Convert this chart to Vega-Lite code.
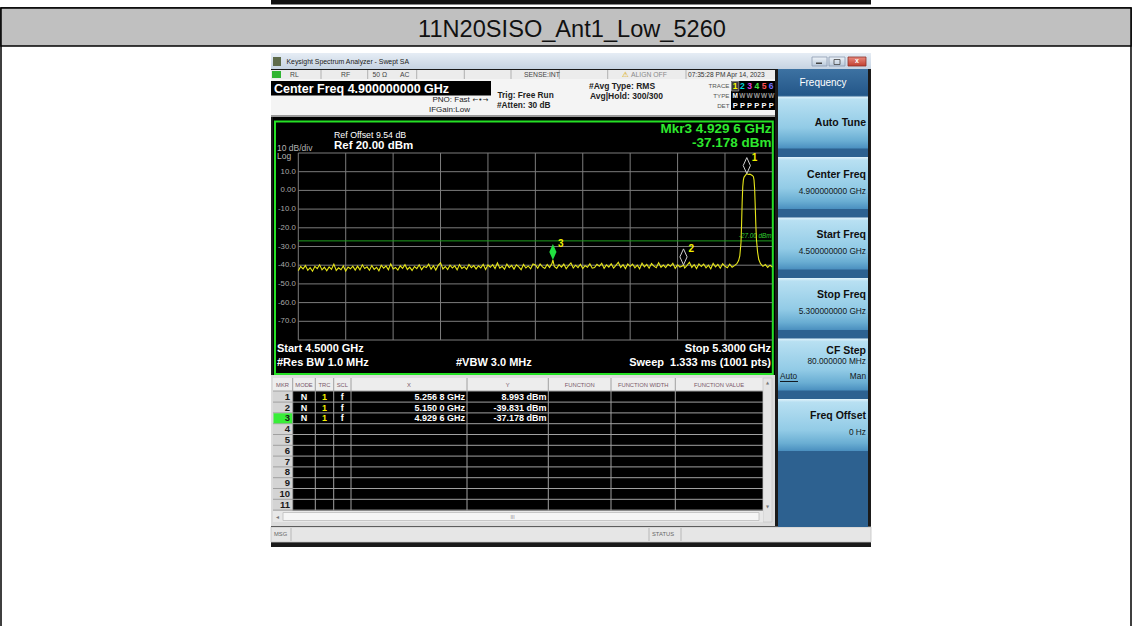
{
"$schema":"https://vega.github.io/schema/vega-lite/v6.json",
"width":1132,"height":626,"padding":0,
"autosize":{"type":"fit","contains":"padding"},
"background":"#ffffff",
"config":{"view":{"stroke":null},"font":"Liberation Sans","axis":{"disable":true},"legend":{"disable":true}},
"datasets":{
"one":[{"k":1}],
"xgrid":[{"f":4.5},{"f":4.58},{"f":4.66},{"f":4.74},{"f":4.82},{"f":4.9},{"f":4.98},{"f":5.06},{"f":5.14},{"f":5.22}],
"ygrid":[{"dbm":20},{"dbm":10},{"dbm":0},{"dbm":-10},{"dbm":-20},{"dbm":-30},{"dbm":-40},{"dbm":-50},{"dbm":-60},{"dbm":-70},{"dbm":-80}],
"ylabels":[{"dbm":10,"label":"10.0"},{"dbm":0,"label":"0.00"},{"dbm":-10,"label":"-10.0"},{"dbm":-20,"label":"-20.0"},{"dbm":-30,"label":"-30.0"},{"dbm":-40,"label":"-40.0"},{"dbm":-50,"label":"-50.0"},{"dbm":-60,"label":"-60.0"},{"dbm":-70,"label":"-70.0"}],
"dline":[{"level":-27,"label":"-27.00 dBm"}],
"mkrs":[{"n":1,"f":5.2568,"dbm":8.993},{"n":2,"f":5.15,"dbm":-39.831},{"n":3,"f":4.9296,"dbm":-37.178}],
"trace":[{"f":4.500,"dbm":-42.9},{"f":4.504,"dbm":-40.7},{"f":4.508,"dbm":-42.0},{"f":4.512,"dbm":-40.2},{"f":4.516,"dbm":-42.7},{"f":4.520,"dbm":-41.3},{"f":4.524,"dbm":-43.2},{"f":4.528,"dbm":-40.6},{"f":4.532,"dbm":-41.8},{"f":4.536,"dbm":-39.8},{"f":4.540,"dbm":-42.5},{"f":4.544,"dbm":-41.1},{"f":4.548,"dbm":-43.0},{"f":4.552,"dbm":-40.9},{"f":4.556,"dbm":-42.2},{"f":4.560,"dbm":-39.4},{"f":4.564,"dbm":-42.8},{"f":4.568,"dbm":-41.4},{"f":4.572,"dbm":-42.4},{"f":4.576,"dbm":-40.4},{"f":4.580,"dbm":-43.1},{"f":4.584,"dbm":-41.0},{"f":4.588,"dbm":-41.9},{"f":4.592,"dbm":-40.5},{"f":4.596,"dbm":-42.6},
{"f":4.600,"dbm":-40.5},{"f":4.604,"dbm":-42.5},{"f":4.608,"dbm":-39.8},{"f":4.612,"dbm":-41.8},{"f":4.616,"dbm":-40.9},{"f":4.620,"dbm":-42.7},{"f":4.624,"dbm":-40.2},{"f":4.628,"dbm":-42.2},{"f":4.632,"dbm":-41.1},{"f":4.636,"dbm":-43.0},{"f":4.640,"dbm":-40.0},{"f":4.644,"dbm":-41.6},{"f":4.648,"dbm":-40.4},{"f":4.652,"dbm":-42.4},{"f":4.656,"dbm":-39.3},{"f":4.660,"dbm":-42.0},{"f":4.664,"dbm":-41.2},{"f":4.668,"dbm":-42.6},{"f":4.672,"dbm":-40.3},{"f":4.676,"dbm":-41.7},{"f":4.680,"dbm":-39.7},{"f":4.684,"dbm":-42.3},{"f":4.688,"dbm":-41.0},{"f":4.692,"dbm":-42.8},{"f":4.696,"dbm":-40.7},
{"f":4.700,"dbm":-41.8},{"f":4.704,"dbm":-39.8},{"f":4.708,"dbm":-42.4},{"f":4.712,"dbm":-40.6},{"f":4.716,"dbm":-41.2},{"f":4.720,"dbm":-39.4},{"f":4.724,"dbm":-42.1},{"f":4.728,"dbm":-40.3},{"f":4.732,"dbm":-42.6},{"f":4.736,"dbm":-40.1},{"f":4.740,"dbm":-38.7},{"f":4.744,"dbm":-42.0},{"f":4.748,"dbm":-40.7},{"f":4.752,"dbm":-42.3},{"f":4.756,"dbm":-40.0},{"f":4.760,"dbm":-41.5},{"f":4.764,"dbm":-40.4},{"f":4.768,"dbm":-42.5},{"f":4.772,"dbm":-39.7},{"f":4.776,"dbm":-41.7},{"f":4.780,"dbm":-40.8},{"f":4.784,"dbm":-42.2},{"f":4.788,"dbm":-39.6},{"f":4.792,"dbm":-41.3},{"f":4.796,"dbm":-40.2},
{"f":4.800,"dbm":-42.0},{"f":4.804,"dbm":-40.3},{"f":4.808,"dbm":-41.4},{"f":4.812,"dbm":-39.5},{"f":4.816,"dbm":-42.3},{"f":4.820,"dbm":-39.9},{"f":4.824,"dbm":-41.1},{"f":4.828,"dbm":-39.7},{"f":4.832,"dbm":-41.8},{"f":4.836,"dbm":-38.8},{"f":4.840,"dbm":-41.6},{"f":4.844,"dbm":-40.6},{"f":4.848,"dbm":-42.2},{"f":4.852,"dbm":-39.4},{"f":4.856,"dbm":-41.3},{"f":4.860,"dbm":-40.1},{"f":4.864,"dbm":-42.1},{"f":4.868,"dbm":-39.8},{"f":4.872,"dbm":-40.9},{"f":4.876,"dbm":-42.4},{"f":4.880,"dbm":-39.6},{"f":4.884,"dbm":-41.5},{"f":4.888,"dbm":-40.4},{"f":4.892,"dbm":-41.9},{"f":4.896,"dbm":-39.3},
{"f":4.900,"dbm":-39.9},{"f":4.904,"dbm":-41.6},{"f":4.908,"dbm":-39.3},{"f":4.912,"dbm":-40.9},{"f":4.916,"dbm":-41.8},{"f":4.920,"dbm":-39.6},{"f":4.924,"dbm":-41.2},{"f":4.928,"dbm":-39.1},{"f":4.9296,"dbm":-37.178},{"f":4.932,"dbm":-40.7},{"f":4.936,"dbm":-41.7},{"f":4.940,"dbm":-39.7},{"f":4.944,"dbm":-41.0},{"f":4.948,"dbm":-39.4},{"f":4.952,"dbm":-41.9},{"f":4.956,"dbm":-40.2},{"f":4.960,"dbm":-38.8},{"f":4.964,"dbm":-41.5},{"f":4.968,"dbm":-40.0},{"f":4.972,"dbm":-41.3},{"f":4.976,"dbm":-39.5},{"f":4.980,"dbm":-41.8},{"f":4.984,"dbm":-40.3},{"f":4.988,"dbm":-41.1},{"f":4.992,"dbm":-39.2},{"f":4.996,"dbm":-41.6},
{"f":5.000,"dbm":-41.3},{"f":5.004,"dbm":-39.5},{"f":5.008,"dbm":-40.6},{"f":5.012,"dbm":-39.0},{"f":5.016,"dbm":-41.7},{"f":5.020,"dbm":-39.8},{"f":5.024,"dbm":-41.0},{"f":5.028,"dbm":-39.2},{"f":5.032,"dbm":-41.5},{"f":5.036,"dbm":-40.1},{"f":5.040,"dbm":-38.4},{"f":5.044,"dbm":-41.2},{"f":5.048,"dbm":-39.7},{"f":5.052,"dbm":-41.8},{"f":5.056,"dbm":-39.3},{"f":5.060,"dbm":-40.7},{"f":5.064,"dbm":-39.4},{"f":5.068,"dbm":-41.4},{"f":5.072,"dbm":-40.0},{"f":5.076,"dbm":-41.9},{"f":5.080,"dbm":-38.9},{"f":5.084,"dbm":-40.9},{"f":5.088,"dbm":-39.6},{"f":5.092,"dbm":-41.6},{"f":5.096,"dbm":-39.1},{"f":5.100,"dbm":-40.5},{"f":5.104,"dbm":-41.3},{"f":5.108,"dbm":-38.7},{"f":5.112,"dbm":-41.1},{"f":5.116,"dbm":-39.9},{"f":5.120,"dbm":-41.3},{"f":5.124,"dbm":-39.5},{"f":5.128,"dbm":-40.6},{"f":5.132,"dbm":-39.0},{"f":5.136,"dbm":-41.7},{"f":5.140,"dbm":-39.8},{"f":5.144,"dbm":-41.0},{"f":5.148,"dbm":-40.4},{"f":5.150,"dbm":-39.831},{"f":5.152,"dbm":-41.5},{"f":5.156,"dbm":-40.1},{"f":5.160,"dbm":-38.4},{"f":5.164,"dbm":-41.2},{"f":5.168,"dbm":-39.7},{"f":5.172,"dbm":-41.8},{"f":5.176,"dbm":-39.3},{"f":5.180,"dbm":-40.7},{"f":5.184,"dbm":-39.4},{"f":5.188,"dbm":-41.4},{"f":5.192,"dbm":-40.0},{"f":5.196,"dbm":-41.9},{"f":5.200,"dbm":-39.0},{"f":5.204,"dbm":-40.9},{"f":5.208,"dbm":-39.6},{"f":5.212,"dbm":-41.6},{"f":5.216,"dbm":-39.2},{"f":5.220,"dbm":-40.6},{"f":5.224,"dbm":-41.4},{"f":5.228,"dbm":-39.5},{"f":5.232,"dbm":-41.1},{"f":5.236,"dbm":-40.2},
{"f":5.240,"dbm":-39.2},{"f":5.243,"dbm":-37.5},{"f":5.245,"dbm":-35.0},{"f":5.247,"dbm":-28.0},{"f":5.248,"dbm":-18.0},{"f":5.249,"dbm":-6.0},{"f":5.250,"dbm":2.0},{"f":5.251,"dbm":5.5},{"f":5.252,"dbm":7.0},{"f":5.254,"dbm":7.9},{"f":5.256,"dbm":8.7},{"f":5.2568,"dbm":8.993},{"f":5.258,"dbm":8.8},{"f":5.260,"dbm":8.5},{"f":5.262,"dbm":8.7},{"f":5.264,"dbm":8.4},{"f":5.266,"dbm":8.0},{"f":5.268,"dbm":7.3},{"f":5.269,"dbm":5.5},{"f":5.270,"dbm":1.0},{"f":5.271,"dbm":-8.0},{"f":5.272,"dbm":-18.0},{"f":5.273,"dbm":-26.0},{"f":5.275,"dbm":-33.0},{"f":5.277,"dbm":-37.0},{"f":5.280,"dbm":-39.2},{"f":5.284,"dbm":-40.6},{"f":5.288,"dbm":-39.6},{"f":5.292,"dbm":-41.2},{"f":5.296,"dbm":-40.0},{"f":5.300,"dbm":-41.0}],
"rows":[{"mkr":1},{"mkr":2},{"mkr":3},{"mkr":4},{"mkr":5},{"mkr":6},{"mkr":7},{"mkr":8},{"mkr":9},{"mkr":10},{"mkr":11}],
"mtable":[{"mkr":1,"mode":"N","trc":"1","scl":"f","xval":"5.256 8 GHz","yval":"8.993 dBm"},{"mkr":2,"mode":"N","trc":"1","scl":"f","xval":"5.150 0 GHz","yval":"-39.831 dBm"},{"mkr":3,"mode":"N","trc":"1","scl":"f","xval":"4.929 6 GHz","yval":"-37.178 dBm"}],
"softkeys":[{"label":"Auto Tune","value":""},{"label":"Center Freq","value":"4.900000000 GHz"},{"label":"Start Freq","value":"4.500000000 GHz"},{"label":"Stop Freq","value":"5.300000000 GHz"},{"label":"CF Step","value":"80.000000 MHz"},{"label":"Freq Offset","value":"0 Hz"}],
"traces":[{"t":1,"type":"M","det":"P"},{"t":2,"type":"W","det":"P"},{"t":3,"type":"W","det":"P"},{"t":4,"type":"W","det":"P"},{"t":5,"type":"W","det":"P"},{"t":6,"type":"W","det":"P"}]
},
"resolve":{"scale":{"x":"independent","y":"independent","color":"independent"}},
"layer":[
{"data":{"name":"one"},
 "layer":[
  {"mark":{"type":"rect","fill":"#ffffff","stroke":"#000000","strokeWidth":1.5},"encoding":{"x":{"datum":1,"type":"quantitative","scale":{"domain":[0,1132],"range":[0,1132],"nice":false,"zero":false}},"x2":{"datum":1131},"y":{"datum":8,"type":"quantitative","scale":{"domain":[0,626],"range":[0,626],"nice":false,"zero":false}},"y2":{"datum":640}}},
  {"mark":{"type":"rect","fill":"#111111"},"encoding":{"x":{"datum":271},"x2":{"datum":871},"y":{"datum":0},"y2":{"datum":4.5}}},
  {"mark":{"type":"rect","fill":"#c0c0c0","stroke":"#000000","strokeWidth":1.5},"encoding":{"x":{"datum":1},"x2":{"datum":1131},"y":{"datum":8},"y2":{"datum":46}}},
  {"mark":{"type":"text","text":"11N20SISO_Ant1_Low_5260","fontSize":23.6,"fill":"#111111","align":"center","baseline":"middle"},"encoding":{"x":{"datum":572},"y":{"datum":30}}},
  {"mark":{"type":"rect","fill":"#1a1a1a"},"encoding":{"x":{"datum":271},"x2":{"datum":871},"y":{"datum":53},"y2":{"datum":547}}},
  {"mark":{"type":"rect","fill":{"gradient":"linear","x1":0,"y1":0,"x2":0,"y2":1,"stops":[{"offset":0,"color":"#e6edf5"},{"offset":1,"color":"#c6d3e2"}]}},"encoding":{"x":{"datum":271},"x2":{"datum":871},"y":{"datum":53},"y2":{"datum":69}}},
  {"mark":{"type":"rect","fill":"#5e6b4a"},"encoding":{"x":{"datum":273},"x2":{"datum":281},"y":{"datum":57},"y2":{"datum":66}}},
  {"mark":{"type":"text","text":"Keysight Spectrum Analyzer - Swept SA","fontSize":6.9,"fill":"#1a1a1a","align":"left","baseline":"middle"},"encoding":{"x":{"datum":286.5},"y":{"datum":61.5}}},
  {"mark":{"type":"rect","fill":{"gradient":"linear","x1":0,"y1":0,"x2":0,"y2":1,"stops":[{"offset":0,"color":"#eef3f8"},{"offset":1,"color":"#b9c9db"}]},"stroke":"#8a9bb0","strokeWidth":0.8},"encoding":{"x":{"datum":812},"x2":{"datum":827},"y":{"datum":57},"y2":{"datum":66}}},
  {"mark":{"type":"rect","fill":"#444444"},"encoding":{"x":{"datum":816},"x2":{"datum":822},"y":{"datum":62.5},"y2":{"datum":64}}},
  {"mark":{"type":"rect","fill":{"gradient":"linear","x1":0,"y1":0,"x2":0,"y2":1,"stops":[{"offset":0,"color":"#eef3f8"},{"offset":1,"color":"#b9c9db"}]},"stroke":"#8a9bb0","strokeWidth":0.8},"encoding":{"x":{"datum":829},"x2":{"datum":845},"y":{"datum":57},"y2":{"datum":66}}},
  {"mark":{"type":"rect","fill":"transparent","stroke":"#444444","strokeWidth":0.8},"encoding":{"x":{"datum":834},"x2":{"datum":840},"y":{"datum":59.5},"y2":{"datum":64.5}}},
  {"mark":{"type":"rect","fill":{"gradient":"linear","x1":0,"y1":0,"x2":0,"y2":1,"stops":[{"offset":0,"color":"#e88a7e"},{"offset":1,"color":"#c23f30"}]},"stroke":"#8a3028","strokeWidth":0.8},"encoding":{"x":{"datum":848},"x2":{"datum":866},"y":{"datum":57},"y2":{"datum":66}}},
  {"mark":{"type":"text","text":"x","fontSize":7,"fontWeight":"bold","fill":"#ffffff","align":"center","baseline":"middle"},"encoding":{"x":{"datum":857},"y":{"datum":61}}},
  {"mark":{"type":"rect","fill":"#ececec"},"encoding":{"x":{"datum":271},"x2":{"datum":775},"y":{"datum":70},"y2":{"datum":79}}},
  {"mark":{"type":"rect","fill":"#32b532"},"encoding":{"x":{"datum":272},"x2":{"datum":281},"y":{"datum":71},"y2":{"datum":78}}},
  {"mark":{"type":"rule","color":"#b0b0b0"},"encoding":{"x":{"datum":321},"y":{"datum":70},"y2":{"datum":79}}},
  {"mark":{"type":"rule","color":"#b0b0b0"},"encoding":{"x":{"datum":367.7},"y":{"datum":70},"y2":{"datum":79}}},
  {"mark":{"type":"rule","color":"#b0b0b0"},"encoding":{"x":{"datum":416.7},"y":{"datum":70},"y2":{"datum":79}}},
  {"mark":{"type":"rule","color":"#b0b0b0"},"encoding":{"x":{"datum":464.3},"y":{"datum":70},"y2":{"datum":79}}},
  {"mark":{"type":"rule","color":"#b0b0b0"},"encoding":{"x":{"datum":511},"y":{"datum":70},"y2":{"datum":79}}},
  {"mark":{"type":"rule","color":"#b0b0b0"},"encoding":{"x":{"datum":559.3},"y":{"datum":70},"y2":{"datum":79}}},
  {"mark":{"type":"rule","color":"#b0b0b0"},"encoding":{"x":{"datum":607.7},"y":{"datum":70},"y2":{"datum":79}}},
  {"mark":{"type":"rule","color":"#b0b0b0"},"encoding":{"x":{"datum":686},"y":{"datum":70},"y2":{"datum":79}}},
  {"mark":{"type":"text","text":"RL","fontSize":6.8,"fill":"#444444","align":"left","baseline":"middle"},"encoding":{"x":{"datum":290},"y":{"datum":75}}},
  {"mark":{"type":"text","text":"RF","fontSize":6.8,"fill":"#444444","align":"left","baseline":"middle"},"encoding":{"x":{"datum":341},"y":{"datum":75}}},
  {"mark":{"type":"text","text":"50 Ω","fontSize":6.8,"fill":"#444444","align":"left","baseline":"middle"},"encoding":{"x":{"datum":372.5},"y":{"datum":75}}},
  {"mark":{"type":"text","text":"AC","fontSize":6.8,"fill":"#444444","align":"left","baseline":"middle"},"encoding":{"x":{"datum":400},"y":{"datum":75}}},
  {"mark":{"type":"text","text":"SENSE:INT","fontSize":6.8,"fill":"#444444","align":"left","baseline":"middle"},"encoding":{"x":{"datum":524},"y":{"datum":75}}},
  {"mark":{"type":"text","text":"⚠","font":"DejaVu Sans","fontSize":7.5,"fill":"#d9a800","align":"left","baseline":"middle"},"encoding":{"x":{"datum":622},"y":{"datum":74.5}}},
  {"mark":{"type":"text","text":"ALIGN OFF","fontSize":6.8,"fill":"#8a8a8a","align":"left","baseline":"middle"},"encoding":{"x":{"datum":631},"y":{"datum":75}}},
  {"mark":{"type":"text","text":"07:35:28 PM Apr 14, 2023","fontSize":6.6,"fill":"#333333","align":"left","baseline":"middle"},"encoding":{"x":{"datum":688},"y":{"datum":75}}},
  {"mark":{"type":"rect","fill":"#f4f4f4"},"encoding":{"x":{"datum":271},"x2":{"datum":775},"y":{"datum":79},"y2":{"datum":115}}},
  {"mark":{"type":"rect","fill":"#000000"},"encoding":{"x":{"datum":271},"x2":{"datum":491},"y":{"datum":81},"y2":{"datum":95.5}}},
  {"mark":{"type":"text","text":"Center Freq 4.900000000 GHz","fontSize":12.5,"fontWeight":"bold","fill":"#ffffff","align":"left","baseline":"middle"},"encoding":{"x":{"datum":274},"y":{"datum":88.5}}},
  {"mark":{"type":"text","text":"PNO: Fast","fontSize":8,"fill":"#222222","align":"left","baseline":"middle"},"encoding":{"x":{"datum":432.5},"y":{"datum":100}}},
  {"mark":{"type":"text","text":"IFGain:Low","fontSize":8,"fill":"#222222","align":"left","baseline":"middle"},"encoding":{"x":{"datum":429},"y":{"datum":110}}},
  {"mark":{"type":"text","text":"←•→","font":"DejaVu Sans","fontSize":7,"fill":"#222222","align":"left","baseline":"middle"},"encoding":{"x":{"datum":472.5},"y":{"datum":99.5}}},
  {"mark":{"type":"text","text":"Trig: Free Run","fontSize":8.3,"fontWeight":"bold","fill":"#222222","align":"left","baseline":"middle"},"encoding":{"x":{"datum":497.5},"y":{"datum":96.3}}},
  {"mark":{"type":"text","text":"#Atten: 30 dB","fontSize":8.3,"fontWeight":"bold","fill":"#222222","align":"left","baseline":"middle"},"encoding":{"x":{"datum":497},"y":{"datum":106.3}}},
  {"mark":{"type":"text","text":"#Avg Type: RMS","fontSize":8.5,"fontWeight":"bold","fill":"#222222","align":"left","baseline":"middle"},"encoding":{"x":{"datum":589},"y":{"datum":86.3}}},
  {"mark":{"type":"text","text":"Avg|Hold: 300/300","fontSize":8.5,"fontWeight":"bold","fill":"#222222","align":"left","baseline":"middle"},"encoding":{"x":{"datum":590},"y":{"datum":96.3}}},
  {"mark":{"type":"text","text":"TRACE","fontSize":6.2,"fill":"#555555","align":"right","baseline":"middle"},"encoding":{"x":{"datum":729.5},"y":{"datum":86}}},
  {"mark":{"type":"text","text":"TYPE","fontSize":6.2,"fill":"#555555","align":"right","baseline":"middle"},"encoding":{"x":{"datum":729.5},"y":{"datum":96}}},
  {"mark":{"type":"text","text":"DET","fontSize":6.2,"fill":"#555555","align":"right","baseline":"middle"},"encoding":{"x":{"datum":729.5},"y":{"datum":106}}},
  {"mark":{"type":"rect","fill":"#000000"},"encoding":{"x":{"datum":731},"x2":{"datum":775},"y":{"datum":81},"y2":{"datum":110}}},
  {"mark":{"type":"rect","fill":"#3a3a3a","stroke":"#aaaaaa","strokeWidth":0.7},"encoding":{"x":{"datum":731.5},"x2":{"datum":738.8},"y":{"datum":81.5},"y2":{"datum":91}}},
  {"mark":{"type":"rect","fill":"#9a9a9a"},"encoding":{"x":{"datum":271},"x2":{"datum":775},"y":{"datum":115},"y2":{"datum":117}}},
  {"mark":{"type":"rect","fill":"#000000"},"encoding":{"x":{"datum":273},"x2":{"datum":775},"y":{"datum":117},"y2":{"datum":375}}},
  {"mark":{"type":"rect","fill":"transparent","stroke":"#25e025","strokeWidth":2},"encoding":{"x":{"datum":275},"x2":{"datum":772.8},"y":{"datum":121.5},"y2":{"datum":374}}},
  {"mark":{"type":"text","text":"Ref Offset 9.54 dB","fontSize":8.8,"fill":"#ffffff","align":"left","baseline":"middle"},"encoding":{"x":{"datum":334},"y":{"datum":135}}},
  {"mark":{"type":"text","text":"Ref 20.00 dBm","fontSize":11.5,"fontWeight":"bold","fill":"#ffffff","align":"left","baseline":"middle"},"encoding":{"x":{"datum":334},"y":{"datum":146}}},
  {"mark":{"type":"text","text":"10 dB/div","fontSize":8.5,"fill":"#b4b4b4","align":"left","baseline":"middle"},"encoding":{"x":{"datum":277},"y":{"datum":147.5}}},
  {"mark":{"type":"text","text":"Log","fontSize":8.5,"fill":"#b4b4b4","align":"left","baseline":"middle"},"encoding":{"x":{"datum":277},"y":{"datum":156}}},
  {"mark":{"type":"text","text":"Mkr3 4.929 6 GHz","fontSize":13.5,"fontWeight":"bold","fill":"#2ee82e","align":"right","baseline":"middle"},"encoding":{"x":{"datum":771.5},"y":{"datum":128.5}}},
  {"mark":{"type":"text","text":"-37.178 dBm","fontSize":13.5,"fontWeight":"bold","fill":"#2ee82e","align":"right","baseline":"middle"},"encoding":{"x":{"datum":771.5},"y":{"datum":142.5}}},
  {"mark":{"type":"text","text":"Start 4.5000 GHz","fontSize":11,"fontWeight":"bold","fill":"#ffffff","align":"left","baseline":"middle"},"encoding":{"x":{"datum":277},"y":{"datum":348.5}}},
  {"mark":{"type":"text","text":"#Res BW 1.0 MHz","fontSize":11,"fontWeight":"bold","fill":"#ffffff","align":"left","baseline":"middle"},"encoding":{"x":{"datum":277},"y":{"datum":363.3}}},
  {"mark":{"type":"text","text":"#VBW 3.0 MHz","fontSize":11,"fontWeight":"bold","fill":"#ffffff","align":"left","baseline":"middle"},"encoding":{"x":{"datum":456},"y":{"datum":363.3}}},
  {"mark":{"type":"text","text":"Stop 5.3000 GHz","fontSize":11,"fontWeight":"bold","fill":"#ffffff","align":"right","baseline":"middle"},"encoding":{"x":{"datum":771},"y":{"datum":348.5}}},
  {"mark":{"type":"text","text":"Sweep\u00a0 1.333 ms (1001 pts)","fontSize":11,"fontWeight":"bold","fill":"#ffffff","align":"right","baseline":"middle"},"encoding":{"x":{"datum":771},"y":{"datum":363.3}}},
  {"mark":{"type":"rect","fill":"#dcdcdc"},"encoding":{"x":{"datum":271},"x2":{"datum":775},"y":{"datum":375},"y2":{"datum":526}}},
  {"mark":{"type":"rect","fill":"#ededed"},"encoding":{"x":{"datum":273},"x2":{"datum":763},"y":{"datum":378},"y2":{"datum":391}}},
  {"mark":{"type":"text","text":"MKR","fontSize":5.8,"fill":"#7a5a6a","align":"center","baseline":"middle"},"encoding":{"x":{"datum":282.5},"y":{"datum":385}}},
  {"mark":{"type":"text","text":"MODE","fontSize":5.8,"fill":"#7a5a6a","align":"center","baseline":"middle"},"encoding":{"x":{"datum":304},"y":{"datum":385}}},
  {"mark":{"type":"text","text":"TRC","fontSize":5.8,"fill":"#7a5a6a","align":"center","baseline":"middle"},"encoding":{"x":{"datum":324.5},"y":{"datum":385}}},
  {"mark":{"type":"text","text":"SCL","fontSize":5.8,"fill":"#7a5a6a","align":"center","baseline":"middle"},"encoding":{"x":{"datum":342.3},"y":{"datum":385}}},
  {"mark":{"type":"text","text":"X","fontSize":5.8,"fill":"#7a5a6a","align":"center","baseline":"middle"},"encoding":{"x":{"datum":409},"y":{"datum":385}}},
  {"mark":{"type":"text","text":"Y","fontSize":5.8,"fill":"#7a5a6a","align":"center","baseline":"middle"},"encoding":{"x":{"datum":507.7},"y":{"datum":385}}},
  {"mark":{"type":"text","text":"FUNCTION","fontSize":5.8,"fill":"#7a5a6a","align":"center","baseline":"middle"},"encoding":{"x":{"datum":579.7},"y":{"datum":385}}},
  {"mark":{"type":"text","text":"FUNCTION WIDTH","fontSize":5.8,"fill":"#7a5a6a","align":"center","baseline":"middle"},"encoding":{"x":{"datum":643.2},"y":{"datum":385}}},
  {"mark":{"type":"text","text":"FUNCTION VALUE","fontSize":5.8,"fill":"#7a5a6a","align":"center","baseline":"middle"},"encoding":{"x":{"datum":719},"y":{"datum":385}}},
  {"mark":{"type":"rect","fill":"#d4d4d4"},"encoding":{"x":{"datum":273},"x2":{"datum":292.7},"y":{"datum":391},"y2":{"datum":510.5}}},
  {"mark":{"type":"rect","fill":"#000000"},"encoding":{"x":{"datum":292.7},"x2":{"datum":763},"y":{"datum":391},"y2":{"datum":510.5}}},
  {"mark":{"type":"rule","color":"#a0a0a0"},"encoding":{"x":{"datum":273},"x2":{"datum":763},"y":{"datum":391}}},
  {"mark":{"type":"rule","color":"#a0a0a0"},"encoding":{"x":{"datum":292.7},"y":{"datum":378},"y2":{"datum":510.5}}},
  {"mark":{"type":"rule","color":"#a0a0a0"},"encoding":{"x":{"datum":315.3},"y":{"datum":378},"y2":{"datum":510.5}}},
  {"mark":{"type":"rule","color":"#a0a0a0"},"encoding":{"x":{"datum":333.7},"y":{"datum":378},"y2":{"datum":510.5}}},
  {"mark":{"type":"rule","color":"#a0a0a0"},"encoding":{"x":{"datum":351},"y":{"datum":378},"y2":{"datum":510.5}}},
  {"mark":{"type":"rule","color":"#a0a0a0"},"encoding":{"x":{"datum":467},"y":{"datum":378},"y2":{"datum":510.5}}},
  {"mark":{"type":"rule","color":"#a0a0a0"},"encoding":{"x":{"datum":548.3},"y":{"datum":378},"y2":{"datum":510.5}}},
  {"mark":{"type":"rule","color":"#a0a0a0"},"encoding":{"x":{"datum":611},"y":{"datum":378},"y2":{"datum":510.5}}},
  {"mark":{"type":"rule","color":"#a0a0a0"},"encoding":{"x":{"datum":675.3},"y":{"datum":378},"y2":{"datum":510.5}}},
  {"mark":{"type":"rect","fill":"#e4e4e4","stroke":"#c8c8c8","strokeWidth":0.8},"encoding":{"x":{"datum":763},"x2":{"datum":772},"y":{"datum":378},"y2":{"datum":522}}},
  {"mark":{"type":"text","text":"▲","font":"DejaVu Sans","fontSize":4,"fill":"#777777","align":"center","baseline":"middle"},"encoding":{"x":{"datum":767.5},"y":{"datum":383}}},
  {"mark":{"type":"text","text":"▼","font":"DejaVu Sans","fontSize":4,"fill":"#777777","align":"center","baseline":"middle"},"encoding":{"x":{"datum":767.5},"y":{"datum":507}}},
  {"mark":{"type":"rect","fill":"#e8e8e8"},"encoding":{"x":{"datum":273},"x2":{"datum":763},"y":{"datum":511},"y2":{"datum":522}}},
  {"mark":{"type":"rect","fill":"#f6f6f6","stroke":"#bdbdbd","strokeWidth":0.8},"encoding":{"x":{"datum":283},"x2":{"datum":759},"y":{"datum":512.5},"y2":{"datum":520.5}}},
  {"mark":{"type":"text","text":"III","fontSize":5,"fill":"#888888","align":"center","baseline":"middle"},"encoding":{"x":{"datum":512.5},"y":{"datum":516.5}}},
  {"mark":{"type":"text","text":"◂","font":"DejaVu Sans","fontSize":6,"fill":"#777777","align":"center","baseline":"middle"},"encoding":{"x":{"datum":277.5},"y":{"datum":516.5}}},
  {"mark":{"type":"rect","fill":"#e6e6e6","stroke":"#c4c4c4","strokeWidth":0.8},"encoding":{"x":{"datum":271},"x2":{"datum":871},"y":{"datum":527},"y2":{"datum":542}}},
  {"mark":{"type":"text","text":"MSG","fontSize":5.8,"fill":"#666666","align":"left","baseline":"middle"},"encoding":{"x":{"datum":274},"y":{"datum":534}}},
  {"mark":{"type":"rule","color":"#b8b8b8"},"encoding":{"x":{"datum":291},"y":{"datum":528},"y2":{"datum":541}}},
  {"mark":{"type":"rule","color":"#b8b8b8"},"encoding":{"x":{"datum":649},"y":{"datum":528},"y2":{"datum":541}}},
  {"mark":{"type":"rule","color":"#b8b8b8"},"encoding":{"x":{"datum":681},"y":{"datum":528},"y2":{"datum":541}}},
  {"mark":{"type":"text","text":"STATUS","fontSize":5.8,"fill":"#666666","align":"left","baseline":"middle"},"encoding":{"x":{"datum":652},"y":{"datum":534}}},
  {"mark":{"type":"rect","fill":"#2d6190"},"encoding":{"x":{"datum":778},"x2":{"datum":868},"y":{"datum":69},"y2":{"datum":527}}},
  {"mark":{"type":"rect","fill":{"gradient":"linear","x1":0,"y1":0,"x2":0,"y2":1,"stops":[{"offset":0,"color":"#3d72a2"},{"offset":1,"color":"#245789"}]}},"encoding":{"x":{"datum":778},"x2":{"datum":868},"y":{"datum":69},"y2":{"datum":95}}},
  {"mark":{"type":"text","text":"Frequency","fontSize":10,"fill":"#ffffff","align":"center","baseline":"middle"},"encoding":{"x":{"datum":823},"y":{"datum":82.5}}}
 ]},
{"layer":[
  {"data":{"name":"ygrid"},"mark":{"type":"rule","color":"#7c7c7c","strokeWidth":1},"encoding":{"y":{"field":"dbm","type":"quantitative","scale":{"domain":[-80,20],"range":[340,153],"nice":false,"zero":false}},"x":{"datum":4.5,"type":"quantitative","scale":{"domain":[4.5,5.3],"range":[298.3,772.4],"nice":false,"zero":false}},"x2":{"datum":5.3}}},
  {"data":{"name":"xgrid"},"mark":{"type":"rule","color":"#7c7c7c","strokeWidth":1},"encoding":{"x":{"field":"f","type":"quantitative"},"y":{"datum":-80},"y2":{"datum":20}}},
  {"data":{"name":"ylabels"},"mark":{"type":"text","align":"right","baseline":"middle","dx":-2.5,"fontSize":7.8,"fill":"#a9a9a9"},"encoding":{"y":{"field":"dbm","type":"quantitative"},"x":{"datum":4.5},"text":{"field":"label"}}},
  {"data":{"name":"dline"},"mark":{"type":"rule","color":"#1e9e1e","strokeWidth":1},"encoding":{"y":{"field":"level","type":"quantitative"},"x":{"datum":4.5},"x2":{"datum":5.3}}},
  {"data":{"name":"dline"},"mark":{"type":"text","align":"right","baseline":"middle","dy":-4.5,"dx":-1,"fontSize":6.3,"fontStyle":"italic","fill":"#30d030"},"encoding":{"y":{"field":"level","type":"quantitative"},"x":{"datum":5.3},"text":{"field":"label"}}},
  {"data":{"name":"trace"},"mark":{"type":"line","stroke":"#e6e619","strokeWidth":1.1},"encoding":{"x":{"field":"f","type":"quantitative"},"y":{"field":"dbm","type":"quantitative"}}},
  {"data":{"name":"mkrs"},"transform":[{"filter":"datum.n != 3"}],"mark":{"type":"point","shape":"M0,-2L0.45,-1L0,0L-0.45,-1Z","size":256,"filled":false,"color":"#d0d0d0","strokeWidth":1,"opacity":1},"encoding":{"x":{"field":"f","type":"quantitative"},"y":{"field":"dbm","type":"quantitative"}}},
  {"data":{"name":"mkrs"},"transform":[{"filter":"datum.n == 3"}],"mark":{"type":"point","shape":"M0,-2L0.45,-1L0,0L-0.45,-1Z","size":256,"filled":true,"color":"#22e040","opacity":1},"encoding":{"x":{"field":"f","type":"quantitative"},"y":{"field":"dbm","type":"quantitative"}}},
  {"data":{"name":"mkrs"},"mark":{"type":"text","align":"left","baseline":"middle","dx":5,"dy":-16,"fontSize":10,"fontWeight":"bold","fill":"#f0f000"},"encoding":{"x":{"field":"f","type":"quantitative"},"y":{"field":"dbm","type":"quantitative"},"text":{"field":"n"}}}
 ]},
{"layer":[
  {"data":{"name":"rows"},"mark":{"type":"rule","color":"#a0a0a0","yOffset":5.4},"encoding":{"y":{"field":"mkr","type":"quantitative","scale":{"domain":[1,11],"range":[396.7,504.7],"nice":false,"zero":false}},"x":{"datum":273,"type":"quantitative","scale":{"domain":[0,1132],"range":[0,1132],"nice":false,"zero":false}},"x2":{"datum":763}}},
  {"data":{"name":"mtable"},"transform":[{"filter":"datum.mkr == 3"}],"mark":{"type":"rule","color":"#38ee38","strokeWidth":10,"strokeCap":"butt"},"encoding":{"y":{"field":"mkr","type":"quantitative"},"x":{"datum":273.5},"x2":{"datum":292.2}}},
  {"data":{"name":"rows"},"mark":{"type":"text","align":"right","baseline":"middle","fontSize":9.5,"fontWeight":"bold","fill":"#1a1a1a"},"encoding":{"y":{"field":"mkr","type":"quantitative"},"x":{"datum":290},"text":{"field":"mkr"}}},
  {"data":{"name":"mtable"},"mark":{"type":"text","align":"center","baseline":"middle","fontSize":9,"fontWeight":"bold","fill":"#ffffff"},"encoding":{"y":{"field":"mkr","type":"quantitative"},"x":{"datum":304},"text":{"field":"mode"}}},
  {"data":{"name":"mtable"},"mark":{"type":"text","align":"center","baseline":"middle","fontSize":9,"fontWeight":"bold","fill":"#f0f000"},"encoding":{"y":{"field":"mkr","type":"quantitative"},"x":{"datum":324.5},"text":{"field":"trc"}}},
  {"data":{"name":"mtable"},"mark":{"type":"text","align":"center","baseline":"middle","fontSize":9,"fontWeight":"bold","fill":"#ffffff"},"encoding":{"y":{"field":"mkr","type":"quantitative"},"x":{"datum":342.3},"text":{"field":"scl"}}},
  {"data":{"name":"mtable"},"mark":{"type":"text","align":"right","baseline":"middle","fontSize":9,"fontWeight":"bold","fill":"#ffffff"},"encoding":{"y":{"field":"mkr","type":"quantitative"},"x":{"datum":465},"text":{"field":"xval"}}},
  {"data":{"name":"mtable"},"mark":{"type":"text","align":"right","baseline":"middle","fontSize":9,"fontWeight":"bold","fill":"#ffffff"},"encoding":{"y":{"field":"mkr","type":"quantitative"},"x":{"datum":546.5},"text":{"field":"yval"}}}
 ]},
{"data":{"name":"softkeys"},
 "layer":[
  {"mark":{"type":"rect","fill":{"gradient":"linear","x1":0,"y1":0,"x2":0,"y2":1,"stops":[{"offset":0,"color":"#e2f3fb"},{"offset":0.06,"color":"#b8e0f2"},{"offset":0.6,"color":"#92cbe6"},{"offset":0.85,"color":"#6aaed3"},{"offset":1,"color":"#4a8fbf"}]}},"encoding":{"y":{"field":"label","type":"nominal","sort":null,"scale":{"type":"band","domain":["Auto Tune","Center Freq","Start Freq","Stop Freq","CF Step","Freq Offset"],"range":[96.5,451],"paddingInner":0.14,"paddingOuter":0}},"x":{"datum":778,"type":"quantitative","scale":{"domain":[0,1132],"range":[0,1132],"nice":false,"zero":false}},"x2":{"datum":868}}},
  {"transform":[{"filter":"datum.label == 'Auto Tune'"}],"mark":{"type":"text","align":"right","baseline":"middle","fontSize":10.5,"fontWeight":"bold","fill":"#101010"},"encoding":{"y":{"field":"label","type":"nominal"},"x":{"datum":866},"text":{"field":"label"}}},
  {"transform":[{"filter":"indexof(['Center Freq','Start Freq','Stop Freq','Freq Offset'], datum.label) >= 0"}],"mark":{"type":"text","align":"right","baseline":"middle","dy":-8.5,"fontSize":10.5,"fontWeight":"bold","fill":"#101010"},"encoding":{"y":{"field":"label","type":"nominal"},"x":{"datum":866},"text":{"field":"label"}}},
  {"transform":[{"filter":"indexof(['Center Freq','Start Freq','Stop Freq','Freq Offset'], datum.label) >= 0"}],"mark":{"type":"text","align":"right","baseline":"middle","dy":8.5,"fontSize":8.3,"fill":"#121820"},"encoding":{"y":{"field":"label","type":"nominal"},"x":{"datum":866},"text":{"field":"value"}}},
  {"transform":[{"filter":"datum.label == 'CF Step'"}],"mark":{"type":"text","align":"right","baseline":"middle","dy":-13,"fontSize":10.5,"fontWeight":"bold","fill":"#101010"},"encoding":{"y":{"field":"label","type":"nominal"},"x":{"datum":866},"text":{"field":"label"}}},
  {"transform":[{"filter":"datum.label == 'CF Step'"}],"mark":{"type":"text","align":"right","baseline":"middle","dy":-2,"fontSize":8.3,"fill":"#121820"},"encoding":{"y":{"field":"label","type":"nominal"},"x":{"datum":866},"text":{"field":"value"}}},
  {"transform":[{"filter":"datum.label == 'CF Step'"}],"mark":{"type":"text","text":"Auto","align":"left","baseline":"middle","dy":12.5,"fontSize":8.3,"fill":"#121820"},"encoding":{"y":{"field":"label","type":"nominal"},"x":{"datum":780}}},
  {"transform":[{"filter":"datum.label == 'CF Step'"}],"mark":{"type":"text","text":"Man","align":"right","baseline":"middle","dy":12.5,"fontSize":8.3,"fill":"#121820"},"encoding":{"y":{"field":"label","type":"nominal"},"x":{"datum":866}}},
  {"transform":[{"filter":"datum.label == 'CF Step'"}],"mark":{"type":"rule","color":"#121820","yOffset":17},"encoding":{"y":{"field":"label","type":"nominal"},"x":{"datum":780},"x2":{"datum":798}}}
 ]},
{"data":{"name":"traces"},
 "layer":[
  {"mark":{"type":"text","align":"center","baseline":"middle","fontSize":8.5,"fontWeight":"bold"},"encoding":{"x":{"field":"t","type":"quantitative","scale":{"domain":[1,6],"range":[735.2,771.2],"nice":false,"zero":false}},"y":{"datum":86.3,"type":"quantitative","scale":{"domain":[0,626],"range":[0,626],"nice":false,"zero":false}},"text":{"field":"t"},"color":{"field":"t","type":"nominal","scale":{"range":["#ffff00","#00dada","#e040e0","#40e040","#ff5050","#7070ff"]}}}},
  {"mark":{"type":"text","align":"center","baseline":"middle","fontSize":6.5,"fontWeight":"bold"},"encoding":{"x":{"field":"t","type":"quantitative"},"y":{"datum":96},"text":{"field":"type"},"color":{"condition":{"test":"datum.t == 1","value":"#ffffff"},"value":"#9a9a9a"}}},
  {"mark":{"type":"text","align":"center","baseline":"middle","fontSize":7.5,"fontWeight":"bold","fill":"#ffffff"},"encoding":{"x":{"field":"t","type":"quantitative"},"y":{"datum":106},"text":{"field":"det"}}}
 ]}
]
}
